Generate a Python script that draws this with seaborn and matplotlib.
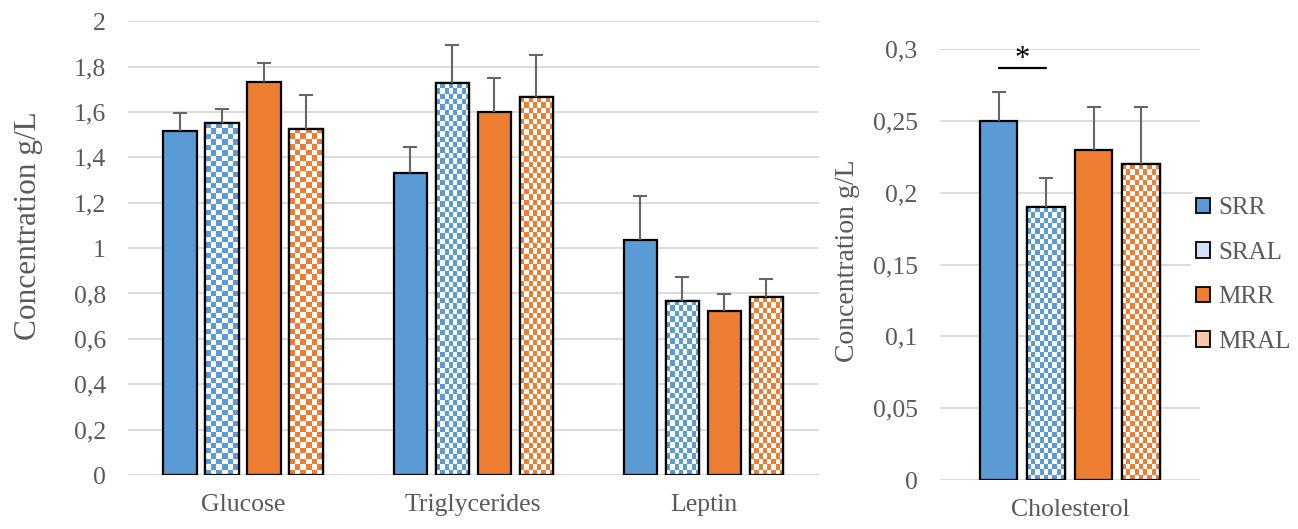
import matplotlib
matplotlib.use('Agg')

import numpy as np
import pandas as pd
import matplotlib.pyplot as plt
import seaborn as sns
from matplotlib.patches import Patch, Rectangle
from matplotlib.ticker import FuncFormatter, MultipleLocator

# data
groups = ['SRR', 'SRAL', 'MRR', 'MRAL']
measures = ['Glucose', 'Triglycerides', 'Leptin']
means = {
    'SRR':  [1.515, 1.33, 1.035],
    'SRAL': [1.55, 1.727, 0.767],
    'MRR':  [1.73, 1.60, 0.722],
    'MRAL': [1.525, 1.665, 0.784],
}
errs = {
    'SRR':  [0.08, 0.115, 0.195],
    'SRAL': [0.065, 0.17, 0.105],
    'MRR':  [0.085, 0.15, 0.075],
    'MRAL': [0.15, 0.185, 0.08],
}
chol_means = [0.25, 0.19, 0.23, 0.22]
chol_errs = [0.02, 0.02, 0.03, 0.04]

blue = '#5B9BD5'
orange = '#ED7D31'
palette = {'SRR': blue, 'SRAL': blue, 'MRR': orange, 'MRAL': orange}
checkered = {'SRAL', 'MRAL'}
text_col = '#595959'

sns.set_style('white')
plt.rcParams['font.family'] = ['Liberation Serif', 'DejaVu Serif']

fig = plt.figure(figsize=(12.98, 5.29), dpi=100)
ax1 = fig.add_axes([0.0986, 0.102, 0.532, 0.858])
ax2 = fig.add_axes([0.724, 0.0926, 0.2005, 0.8144])


def checker(ax, bar, color, cell=5.4):
    # checkerboard fill clipped to the bar
    fig.canvas.draw()
    bb = bar.get_window_extent()
    nx = max(1, int(round(bb.width / cell)))
    ny = max(1, int(round(bb.height / cell)))
    rgb = np.array(matplotlib.colors.to_rgb(color))
    img = np.ones((ny, nx, 3))
    yy, xx = np.mgrid[0:ny, 0:nx]
    img[(xx + yy) % 2 == 0] = rgb
    x0, y0 = bar.get_xy()
    w, h = bar.get_width(), bar.get_height()
    im = ax.imshow(img, extent=[x0, x0 + w, y0, y0 + h], origin='lower',
                   aspect='auto', interpolation='nearest', zorder=bar.get_zorder() + 0.1)
    im.set_clip_path(bar)
    ax.add_patch(Rectangle((x0, y0), w, h, fill=False, ec='black', lw=1.6,
                           zorder=bar.get_zorder() + 0.2))


def draw_panel(ax, df, err_table, ylim, step):
    sns.barplot(data=df, x='measure', y='value', hue='group', hue_order=groups,
                palette=palette, saturation=1, width=0.73, gap=0.21, edgecolor='black',
                linewidth=1.6, errorbar=None, legend=False, ax=ax)
    ax.set_ylim(*ylim)
    xl = ax.get_xlim()
    for g, cont in zip(groups, ax.containers):
        xs, ys = [], []
        for bar in cont:
            xs.append(bar.get_x() + bar.get_width() / 2)
            ys.append(bar.get_height())
            if g in checkered:
                bar.set_facecolor('white')
                checker(ax, bar, palette[g])
        e = np.asarray(err_table[g])
        _, caps, _ = ax.errorbar(xs, ys, yerr=[np.zeros_like(e), e], fmt='none',
                                 ecolor='#666666', elinewidth=1.5, capsize=4.8,
                                 capthick=1.5, zorder=5)
        caps[0].set_visible(False)
    ax.set_xlim(xl)
    ax.set_ylim(*ylim)
    ax.yaxis.set_major_locator(MultipleLocator(step))
    ax.yaxis.set_major_formatter(FuncFormatter(lambda v, p: f'{round(v, 3):g}'.replace('.', ',')))
    ax.grid(axis='y', color='#d9d9d9', lw=1.3)
    ax.set_axisbelow(True)
    sns.despine(ax=ax, left=True, bottom=True)
    ax.tick_params(axis='both', length=0, labelsize=18.5, colors=text_col)
    ax.tick_params(axis='y', pad=16)
    ax.tick_params(axis='x', pad=14)
    ax.set_xlabel('')
    ax.set_ylabel('')


rows = [(m, g, means[g][i]) for g in groups for i, m in enumerate(measures)]
df1 = pd.DataFrame(rows, columns=['measure', 'group', 'value'])
draw_panel(ax1, df1, errs, (0, 2), 0.2)

df2 = pd.DataFrame({'measure': ['Cholesterol'] * 4, 'group': groups, 'value': chol_means})
draw_panel(ax2, df2, {g: [chol_errs[i]] for i, g in enumerate(groups)}, (0, 0.3), 0.05)

# significance mark between SRR and SRAL
x_srr = ax2.containers[0][0].get_x() + ax2.containers[0][0].get_width() / 2
x_sral = ax2.containers[1][0].get_x() + ax2.containers[1][0].get_width() / 2
ax2.plot([x_srr, x_sral], [0.287, 0.287], color='black', lw=1.6, zorder=6)
ax2.text((x_srr + x_sral) / 2, 0.2925, '*', ha='center', va='center',
         fontsize=22, color='black')

fig.text(0.022, 0.573, 'Concentration g/L', rotation=90, ha='center', va='center',
         fontsize=22.5, color=text_col)
fig.text(0.653, 0.508, 'Concentration g/L', rotation=90, ha='center', va='center',
         fontsize=20, color=text_col)

handles = [
    Patch(facecolor=blue, edgecolor='black', lw=1.3),
    Patch(facecolor='#cfe1f3', edgecolor='black', lw=1.3),
    Patch(facecolor=orange, edgecolor='black', lw=1.3),
    Patch(facecolor='#f8c8a8', edgecolor='black', lw=1.3),
]
leg = fig.legend(handles, groups, loc='upper left', bbox_to_anchor=(0.908, 0.66),
                 frameon=True, fontsize=18, handlelength=0.55, handleheight=0.55,
                 handletextpad=0.35, labelspacing=0.9, borderpad=0.2,
                 facecolor='white', edgecolor='white', framealpha=1)
for t in leg.get_texts():
    t.set_color(text_col)

fig.savefig('out.png', dpi=100)
